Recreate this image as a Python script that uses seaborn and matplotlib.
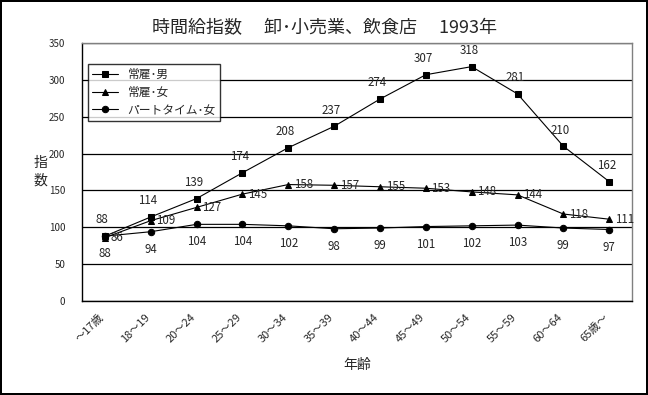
import pandas as pd
import matplotlib
matplotlib.use("Agg")
import matplotlib.pyplot as plt
import matplotlib.transforms as mtrans
import seaborn as sns

# data
ages = ["～17歳", "18～19", "20～24", "25～29", "30～34", "35～39",
        "40～44", "45～49", "50～54", "55～59", "60～64", "65歳～"]
male_regular = [88, 114, 139, 174, 208, 237, 274, 307, 318, 281, 210, 162]
female_regular = [86, 109, 127, 145, 158, 157, 155, 153, 148, 144, 118, 111]
female_parttime = [88, 94, 104, 104, 102, 98, 99, 101, 102, 103, 99, 97]
series_names = ["常雇･男", "常雇･女", "パートタイム･女"]

df = pd.concat([
    pd.DataFrame({"age": ages, "index": male_regular, "group": series_names[0]}),
    pd.DataFrame({"age": ages, "index": female_regular, "group": series_names[1]}),
    pd.DataFrame({"age": ages, "index": female_parttime, "group": series_names[2]}),
], ignore_index=True)

sns.set_style("white")
plt.rcParams['font.family'] = ['Noto Sans CJK JP', 'DejaVu Sans']

fig = plt.figure(figsize=(6.48, 3.95), dpi=100)
fig.patch.set_edgecolor("black")
fig.patch.set_linewidth(1.6)
ax = fig.add_axes([0.1265, 0.238, 0.849, 0.653])

sns.lineplot(data=df, x="age", y="index", hue="group", style="group",
             markers=["s", "^", "o"], dashes=False, sort=False,
             palette=["black", "black", "black"], linewidth=0.8,
             markersize=4.6, markeredgecolor="black", ax=ax)

# data labels
for i, v in enumerate(male_regular):
    ax.annotate(str(v), (i, v), xytext=(-2, 7), textcoords="offset points",
                ha="center", va="bottom", fontsize=8.3)
for i, v in enumerate(female_regular):
    ax.annotate(str(v), (i, v), xytext=(4, 0), textcoords="offset points",
                ha="left", va="center", fontsize=8.3)
for i, v in enumerate(female_parttime):
    ax.annotate(str(v), (i, v), xytext=(0, -8), textcoords="offset points",
                ha="center", va="top", fontsize=8.3)

ax.set_xlim(-0.5, len(ages) - 0.5)
ax.set_ylim(0, 350)
ax.set_yticks(range(0, 351, 50))
ax.yaxis.grid(True, color="black", linewidth=0.9)
ax.tick_params(axis="y", length=0, pad=12, labelsize=7)
ax.set_xticks(range(len(ages)))
ax.set_xticks([k + 0.5 for k in range(len(ages))], minor=True)
ax.tick_params(axis="x", which="major", length=0, pad=8, labelsize=8)
ax.tick_params(axis="x", which="minor", length=2.5, direction="in", color="black")
shift = mtrans.ScaledTranslation(-6 / 100, 0, fig.dpi_scale_trans)
for lab in ax.get_xticklabels():
    lab.set_rotation(45)
    lab.set_ha("right")
    lab.set_rotation_mode("anchor")
    lab.set_transform(lab.get_transform() + shift)

for side in ["left", "bottom"]:
    ax.spines[side].set_color("black")
    ax.spines[side].set_linewidth(1)
for side in ["top", "right"]:
    ax.spines[side].set_color("gray")
    ax.spines[side].set_linewidth(1)

ax.set_xlabel("")
ax.set_ylabel("")
fig.text(0.551, 0.076, "年齢", ha="center", va="center", fontsize=10)
fig.text(0.062, 0.565, "指\n数", ha="center", va="center", fontsize=10, linespacing=1.3)
fig.text(0.5, 0.928, "時間給指数　 卸･小売業、飲食店　 1993年",
         ha="center", va="center", fontsize=13)

leg = ax.legend(loc="upper left", bbox_to_anchor=(0.011, 0.919), borderaxespad=0,
                fontsize=8.5, frameon=True, fancybox=False, handlelength=2.2,
                labelspacing=0.4, borderpad=0.35)
leg.get_frame().set_edgecolor("black")
leg.get_frame().set_linewidth(1)

fig.savefig("out.png", dpi=100, edgecolor=fig.get_edgecolor())
